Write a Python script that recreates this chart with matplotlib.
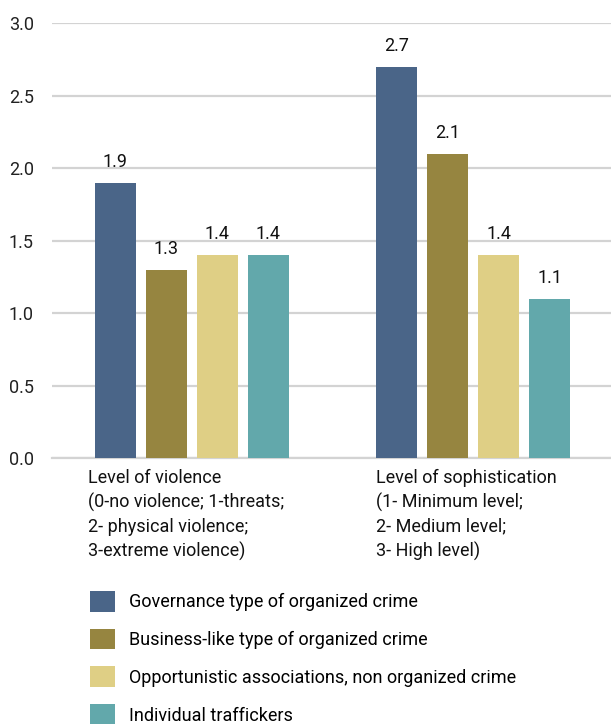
import matplotlib.pyplot as plt
import numpy as np
from matplotlib.patches import Patch

plt.rcParams['font.family'] = ['Roboto', 'DejaVu Sans']

categories = ['Level of violence\n(0-no violence; 1-threats;\n2- physical violence;\n3-extreme violence)',
              'Level of sophistication\n(1- Minimum level;\n2- Medium level;\n3- High level)']
series = ['Governance type of organized crime',
          'Business-like type of organized crime',
          'Opportunistic associations, non organized crime',
          'Individual traffickers']
values = [[1.9, 2.7],
          [1.3, 2.1],
          [1.4, 1.4],
          [1.4, 1.1]]
colors = ['#4a6588', '#968540', '#dfcf85', '#62a8ab']

fig = plt.figure(figsize=(6.11, 7.24), dpi=100)
ax = fig.add_axes([0.0851, 0.3674, 0.915, 0.6008])

x = np.arange(len(categories))
step = 0.1815
width = 0.143
for i, (vals, c) in enumerate(zip(values, colors)):
    pos = x + (i - 1.5) * step
    ax.bar(pos, vals, width=width, color=c, zorder=3)
    for p, v in zip(pos, vals):
        ax.text(p, v + 0.08, f'{v:.1f}', ha='center', va='bottom', fontsize=13, color='#111111')

ax.set_xlim(-0.498, 1.491)
ax.set_ylim(0, 3.0)
ax.set_yticks(np.arange(0, 3.01, 0.5))
ax.set_yticklabels([f'{t:.1f}' for t in np.arange(0, 3.01, 0.5)], fontsize=13, color='#222222')
ax.set_xticks([])
ax.grid(axis='y', color='#d3d3d3', linewidth=1.6, zorder=0)
ax.tick_params(axis='y', length=0, pad=13)
for s in ['top', 'right', 'left']:
    ax.spines[s].set_visible(False)
ax.spines['bottom'].set_color('#d3d3d3')
ax.spines['bottom'].set_linewidth(1.6)

# category labels, left aligned under each group
for xi, off, lab in zip(x, [-0.37, -0.345], categories):
    ax.text(xi + off, -0.075, lab, ha='left', va='top', fontsize=13,
            color='#111111', linespacing=1.4)

handles = [Patch(facecolor=c, edgecolor='none') for c in colors]
fig.legend(handles, series, loc='upper left', bbox_to_anchor=(0.135, 0.194),
           frameon=False, fontsize=13, handlelength=1.4, handleheight=1.4,
           handletextpad=0.8, labelspacing=0.94, borderaxespad=0)

fig.savefig('out.png', dpi=100)
